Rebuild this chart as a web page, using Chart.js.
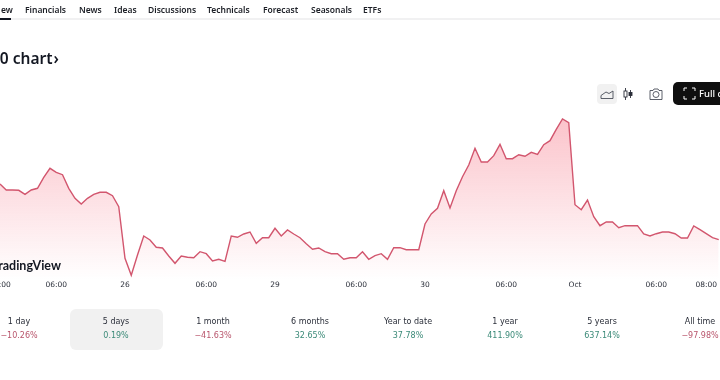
<!DOCTYPE html>
<html>
<head>
<meta charset="utf-8">
<script src="https://cdn.jsdelivr.net/npm/chart.js@4"></script>
<style>
html,body{margin:0;padding:0;background:#fff;}
body{width:720px;height:380px;position:relative;overflow:hidden;font-family:"Noto Sans",sans-serif;color:#131722;filter:blur(0.35px);}
.abs{position:absolute;white-space:nowrap;}
.nav{top:2px;font-size:8.5px;font-weight:600;line-height:15px;color:#1c1f26;}
#navline{left:0;top:18px;width:720px;height:2px;background:#f1f1f2;}
#navactive{left:0;top:18px;width:11px;height:2px;background:#131722;}
#title{left:-9px;top:48px;font-size:15.5px;font-weight:600;line-height:20px;}
#wrap{position:absolute;left:-20px;top:0;width:760px;height:380px;}
#mark{right:659px;top:258px;font-family:Lato,sans-serif;font-weight:700;font-size:12.5px;line-height:16px;color:#131722;}
#sel{left:70px;top:309px;width:93px;height:41px;background:#f1f1f1;border-radius:6px;}
.lab,.pct{font-family:"DejaVu Sans",sans-serif;font-size:8px;line-height:12px;transform:translateX(-50%);}
.lab{top:316px;color:#2a2e39;}
.pct{top:330px;}
.up{color:#3b8a78;}
.dn{color:#b9566d;}
#tool1{left:597px;top:84px;width:20px;height:20px;background:#f1f1f1;border-radius:4px;}
#full{left:673px;top:82px;width:60px;height:23px;background:#0f0f0f;border-radius:5px;color:#fff;font-size:9.5px;font-weight:500;line-height:23px;text-indent:26px;}
svg{position:absolute;}
</style>
</head>
<body>
<div class="abs" id="navline"></div>
<div class="abs" id="navactive"></div>
<div id="wrap"><canvas id="c" width="760" height="380"></canvas></div>
<div class="abs" id="mark">TradingView</div>
<div class="abs" id="title">50 chart<span style="margin-left:1px">›</span></div>
<div class="abs" id="sel"></div>
<div class="abs" id="tool1"></div>
<svg style="left:597px;top:84px" width="20" height="20" fill="none" stroke="#4a4e59" stroke-width="0.9"><path d="M4 14.500h12V7l-4 2.500-3-1.500-5 3.500z"/></svg>
<svg style="left:621px;top:84px" width="16" height="20" fill="none" stroke="#2a2e39" stroke-width="0.9"><path d="M4.500 4v12M9.500 6v8"/><rect x="3" y="7" width="3" height="6" fill="#fff"/><rect x="8" y="8.500" width="3" height="3" fill="#2a2e39"/></svg>
<svg style="left:646px;top:84px" width="20" height="20" fill="none" stroke="#4a4e59" stroke-width="0.9"><path d="M4 6.500h3l1-1.500h4l1 1.500h3v9H4z"/><circle cx="10" cy="10.500" r="3"/></svg>
<div class="abs" id="full">Full chart</div>
<svg style="left:683px;top:87px" width="13" height="13" fill="none" stroke="#fff" stroke-width="1"><path d="M1 4V1h3M9 1h3v3M12 9v3H9M4 12H1V9"/></svg>
<script>
var navItems = ["Overview","Financials","News","Ideas","Discussions","Technicals","Forecast","Seasonals","ETFs"];
var navLefts = [-26,25,79,114,148,207,263,311,363];
var periods = ["1 day","5 days","1 month","6 months","Year to date","1 year","5 years","All time"];
var periodChanges = ["−10.26%","0.19%","−41.63%","32.65%","37.78%","411.90%","637.14%","−97.98%"];
var periodCenters = [19,116,213,310,408,505,602,700];
var tickIndexes = [0,9,20,33,44,57,68,81,92,105,113];
var tickLabels = ["04:00","06:00","26","06:00","29","06:00","30","06:00","Oct","06:00","08:00"];
var prices = [96,90,90,89.7,85.7,90,91.7,102.7,111.7,107.7,105.3,91.7,81.7,76,81.7,85.7,87.7,87.7,84.3,73.3,
21.7,4.7,25,44,40,32.7,32,24,16.7,24,22.7,22.3,28.3,26.3,19,20.7,18.7,44,42.7,46,
48,36.7,42.3,42.3,51.7,44,50,46,42.3,36.3,30.7,32,28.3,26.3,26.3,20.7,22.3,22.3,28.3,20.7,
24.3,26.3,20.7,32.3,32.3,30.3,30.3,30.3,56,66,71.7,89.3,72,89.3,103.3,115,131.7,118,118,124.3,
135.7,121.3,121.3,125.3,123.7,127.7,125.7,135.3,139.3,150.7,161,157.3,75.3,70.3,80,63.3,54.3,58,58,52.3,
54.3,54.3,54.3,46,44,46.3,48,48,46.3,42,42,54,50.3,46.3,42.3,40.3];

navItems.forEach(function(t,i){
  var d=document.createElement('div');d.className='abs nav';d.style.left=navLefts[i]+'px';d.textContent=t;
  if(i===0)d.style.clipPath='inset(0 0 0 27px)';
  document.body.appendChild(d);
});
periods.forEach(function(t,i){
  var a=document.createElement('div');a.className='abs lab';a.style.left=periodCenters[i]+'px';a.textContent=t;document.body.appendChild(a);
  var b=document.createElement('div');b.className='abs pct '+(periodChanges[i].charAt(0)==='−'?'dn':'up');b.style.left=periodCenters[i]+'px';b.textContent=periodChanges[i];document.body.appendChild(b);
});

var categories = prices.map(function(_,i){var k=tickIndexes.indexOf(i);return k<0?'':tickLabels[k];});

new Chart(document.getElementById('c'),{
  type:'line',
  data:{labels:categories,datasets:[{
    data:prices,
    borderColor:'#d2566e',
    borderWidth:1.4,
    pointRadius:0,
    tension:0,
    fill:'origin',
    backgroundColor:function(ctx){
      var a=ctx.chart.chartArea;
      if(!a)return 'rgba(0,0,0,0)';
      var g=ctx.chart.ctx.createLinearGradient(0,119,0,a.bottom);
      g.addColorStop(0,'rgba(245,90,110,0.36)');
      g.addColorStop(1,'rgba(245,90,110,0)');
      return g;
    }
  }]},
  options:{
    animation:false,responsive:false,
    layout:{padding:{left:20,right:21.25,top:110,bottom:80}},
    plugins:{legend:{display:false},tooltip:{enabled:false}},
    scales:{
      y:{display:false,min:0,max:170},
      x:{
        offset:false,
        border:{display:false},
        grid:{display:false,drawTicks:false},
        afterFit:function(s){s.height=20;},
        ticks:{
          autoSkip:false,maxRotation:0,minRotation:0,padding:1,
          color:'#2a2e39',
          font:{family:'"DejaVu Sans",sans-serif',size:7.5}
        }
      }
    }
  }
});
</script>
</body>
</html>
